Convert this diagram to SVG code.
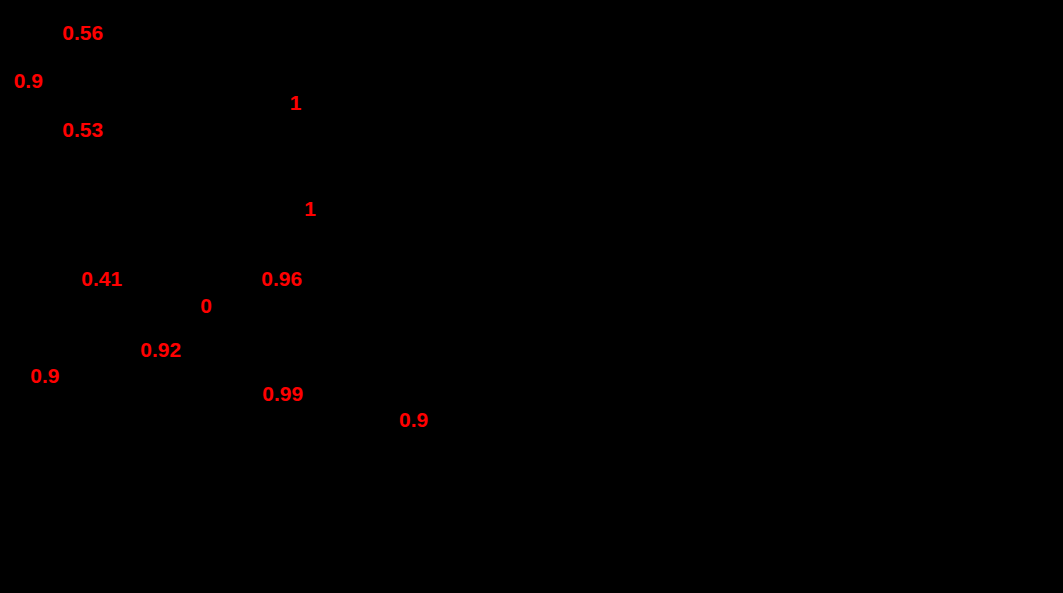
<svg xmlns="http://www.w3.org/2000/svg" width="1063" height="593" viewBox="0 0 1063 593">
<style>
.lbl{font-family:"Liberation Sans",Arial,sans-serif;font-weight:bold;font-size:21px;fill:#ff0000}
</style>
<rect x="0" y="0" width="1063" height="593" fill="#000000"/>
<g id="labels">
<g id="n1"><text class="lbl" x="62.3" y="40">0.56</text></g>
<g id="n2"><text class="lbl" x="13.7" y="88">0.9</text></g>
<g id="n3"><text class="lbl" x="62.3" y="137">0.53</text></g>
<g id="n4"><text class="lbl" x="289.8" y="110">1</text></g>
<g id="n5"><text class="lbl" x="304.3" y="216">1</text></g>
<g id="n6"><text class="lbl" x="81.3" y="286">0.41</text></g>
<g id="n7"><text class="lbl" x="261.3" y="286">0.96</text></g>
<g id="n8"><text class="lbl" x="200.3" y="313">0</text></g>
<g id="n9"><text class="lbl" x="140.3" y="357">0.92</text></g>
<g id="n10"><text class="lbl" x="30.3" y="383">0.9</text></g>
<g id="n11"><text class="lbl" x="262.3" y="401">0.99</text></g>
<g id="n12"><text class="lbl" x="399" y="427">0.9</text></g>
</g>
</svg>
